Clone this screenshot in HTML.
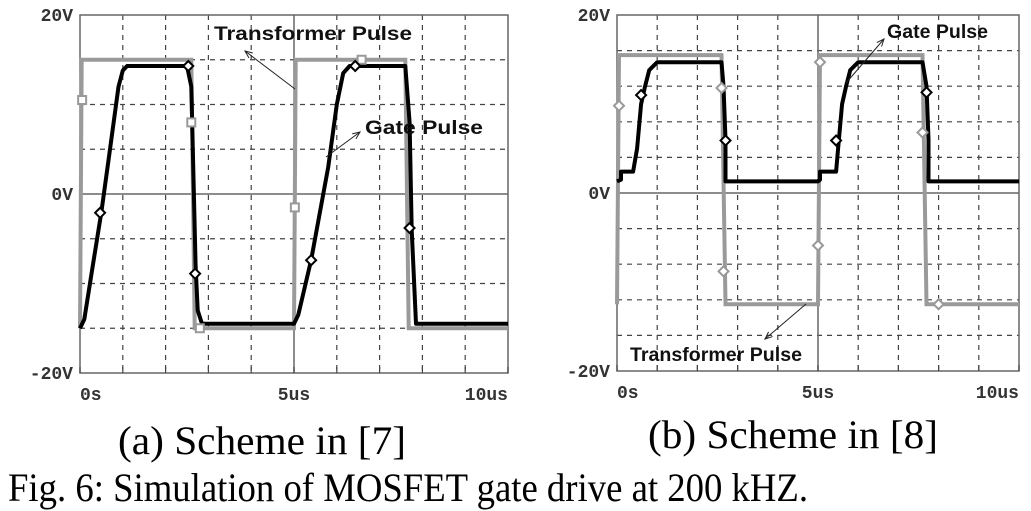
<!DOCTYPE html>
<html><head><meta charset="utf-8"><style>
html,body{margin:0;padding:0;background:#fff;}
svg{display:block;}
.tk{font-family:"Liberation Mono",monospace;font-weight:bold;font-size:18px;fill:#333;}
.lbl{font-family:"Liberation Sans",sans-serif;font-weight:bold;font-size:19px;fill:#111;}
.cap{font-family:"Liberation Serif",serif;fill:#000;}
</style></head><body>
<svg id="fig" width="1031" height="511" viewBox="0 0 1031 511">
<g id="pa"></g>
<g id="pb"></g>
<text class="cap" x="118" y="454" font-size="40" textLength="288" lengthAdjust="spacingAndGlyphs">(a) Scheme in [7]</text>
<text class="cap" x="648" y="448" font-size="40" textLength="290" lengthAdjust="spacingAndGlyphs">(b) Scheme in [8]</text>
<text class="cap" x="8" y="501" font-size="40" textLength="800" lengthAdjust="spacingAndGlyphs">Fig. 6: Simulation of MOSFET gate drive at 200 kHZ.</text>
</svg>
<script>
// ---- data ----
const xTickLabels = ["0s","5us","10us"];
const xTickValues = [0,5,10];
const yTickLabels = ["20V","0V","-20V"];
const yTickValues = [20,0,-20];
const aTransT = [0,0.04,2.6,2.68,5.0,5.04,7.6,7.68,10];
const aTransV = [-15,15,15,-15,-15,15,15,-15,-15];
const aGateT = [0,0.1,0.3,0.5,0.7,0.9,1.0,1.1,2.5,2.6,2.7,2.75,2.85,5.0,5.1,5.4,5.8,6.0,6.15,6.3,7.6,7.7,7.75,7.85,10];
const aGateV = [-15,-14,-8,-2,5,12,13.8,14.3,14.3,12,-8,-13,-14.5,-14.5,-13.5,-7.4,3,10,13.5,14.3,14.3,8,-4,-14.5,-14.5];
const aTransMkT = [0.05,2.6,2.8,5.02,6.58];
const aTransMkV = [10.5,8,-15,-1.5,15];
const aGateMkT = [0.47,2.53,2.69,5.4,6.43,7.7];
const aGateMkV = [-2.1,14.3,-8.9,-7.4,14.3,-3.8];
const bTransT = [0,0.05,2.6,2.7,5.0,5.05,7.6,7.7,10];
const bTransV = [-12.5,15.5,15.5,-12.5,-12.5,15.5,15.5,-12.5,-12.5];
const bGateT = [0,0.1,0.1,0.4,0.5,0.6,0.7,0.8,1.0,2.6,2.65,2.7,2.7,5.0,5.05,5.05,5.45,5.5,5.6,5.7,5.8,6.0,7.6,7.7,7.75,7.75,10];
const bGateV = [1.3,1.5,2.4,2.4,5,10,12,13.8,14.7,14.7,12,6,1.3,1.3,1.5,2.4,2.4,5,10,12,13.8,14.7,14.7,12,6,1.3,1.3];
const bTransMkT = [0.05,2.6,2.65,5.0,5.05,7.6,8.0];
const bTransMkV = [9.8,11.8,-8.8,-5.9,14.7,6.8,-12.5];
const bGateMkT = [0.6,2.7,5.45,7.7];
const bGateMkV = [11,5.9,5.9,11.3];

const NS="http://www.w3.org/2000/svg";
function mk(tag,attrs,parent){const e=document.createElementNS(NS,tag);for(const k in attrs)e.setAttribute(k,attrs[k]);parent.appendChild(e);return e;}

function drawPlot(g,cfg){
  const X=t=>cfg.x0+t*(cfg.x1-cfg.x0)/10;
  const Y=v=>cfg.yz-v*(cfg.yb-cfg.yt)/40;
  for(let i=1;i<10;i++){ if(i===5)continue;
    const l=mk('line',{x1:X(i),x2:X(i),y1:Y(20),y2:Y(-20),stroke:'#444','stroke-width':1.2,'stroke-dasharray':'5,5'},g);
    
    
  }
  for(let v=-20+cfg.ystep;v<20;v+=cfg.ystep){ if(Math.abs(v)<1e-6)continue;
    const l=mk('line',{x1:X(0),x2:X(10),y1:Y(v),y2:Y(v),stroke:'#444','stroke-width':1.2,'stroke-dasharray':'5,5'},g);
    
    
  }
  const z=mk('line',{x1:X(0),x2:X(10),y1:Y(0),y2:Y(0),stroke:'#666','stroke-width':1.5},g);
  
  
  const m=mk('line',{x1:X(5),x2:X(5),y1:Y(20),y2:Y(-20),stroke:'#666','stroke-width':1.5},g);
  
  
  const fr=mk('rect',{x:X(0),y:Y(20),width:X(10)-X(0),height:Y(-20)-Y(20),fill:'none',stroke:'#666','stroke-width':1.5},g);
  
  
  for(let i=0;i<=10;i++){
    const t=mk('line',{x1:X(i),x2:X(i),y1:Y(-20),y2:Y(-20)-6,stroke:'#444','stroke-width':1.2},g);
    
    
  }
  xTickValues.forEach((v,i)=>{
    const t=mk('text',{x:X(v),y:Y(-20)+27,'text-anchor':i===0?'start':(i===2?'end':'middle'),class:'tk'},g);
    t.textContent=xTickLabels[i];
    
    
  });
  yTickValues.forEach((v,i)=>{
    const t=mk('text',{x:X(0)-7,y:Y(v)+6,'text-anchor':'end',class:'tk'},g);
    t.textContent=yTickLabels[i];
    
    
  });
  const pts=(T,V)=>T.map((t,i)=>X(t).toFixed(1)+','+Y(V[i]).toFixed(1)).join(' ');
  const tr=mk('polyline',{points:pts(cfg.tT,cfg.tV),fill:'none',stroke:'#9a9a9a','stroke-width':4,'stroke-linejoin':'miter'},g);
  
  
  const ga=mk('polyline',{points:pts(cfg.gT,cfg.gV),fill:'none',stroke:'#000','stroke-width':4,'stroke-linejoin':'round'},g);
  
  
  cfg.tmT.forEach((t,i)=>{
    const x=X(t),y=Y(cfg.tmV[i]);
    const r=cfg.sq?mk('rect',{x:x-4,y:y-4,width:8,height:8,fill:'#fff',stroke:'#999','stroke-width':2},g)
                 :mk('polygon',{points:`${x},${y-5} ${x+5},${y} ${x},${y+5} ${x-5},${y}`,fill:'#fff',stroke:'#999','stroke-width':2},g);
    
    
  });
  cfg.gmT.forEach((t,i)=>{
    const x=X(t),y=Y(cfg.gmV[i]);
    const r=mk('polygon',{points:`${x},${y-5} ${x+5},${y} ${x},${y+5} ${x-5},${y}`,fill:'#fff',stroke:'#000','stroke-width':2},g);
    
    
  });
  cfg.labels.forEach(L=>{
    const a=mk('line',{x1:L.ax1,y1:L.ay1,x2:L.ax2,y2:L.ay2,stroke:'#222','stroke-width':1},g);
    
    
    const ang=Math.atan2(L.ay2-L.ay1,L.ax2-L.ax1);
    const h=mk('polyline',{points:`${L.ax2-8*Math.cos(ang-0.4)},${L.ay2-8*Math.sin(ang-0.4)} ${L.ax2},${L.ay2} ${L.ax2-8*Math.cos(ang+0.4)},${L.ay2-8*Math.sin(ang+0.4)}`,fill:'none',stroke:'#222','stroke-width':1},g);
    
    
    const t=mk('text',{x:L.x,y:L.y,class:'lbl',textLength:L.w,lengthAdjust:'spacingAndGlyphs'},g);
    t.textContent=L.text;
    
    
  });
}
drawPlot(document.getElementById('pa'),{x0:80,x1:508,yt:15,yb:373,yz:194,ystep:5,
  tT:aTransT,tV:aTransV,gT:aGateT,gV:aGateV,tmT:aTransMkT,tmV:aTransMkV,gmT:aGateMkT,gmV:aGateMkV,sq:true,
  labels:[{text:'Transformer Pulse',x:214,y:40,w:198,ax1:295,ay1:89,ax2:245,ay2:51},
          {text:'Gate Pulse',x:365,y:134,w:118,ax1:326,ay1:157,ax2:360,ay2:132}]});
drawPlot(document.getElementById('pb'),{x0:617,x1:1019,yt:15,yb:371,yz:193,ystep:4,
  tT:bTransT,tV:bTransV,gT:bGateT,gV:bGateV,tmT:bTransMkT,tmV:bTransMkV,gmT:bGateMkT,gmV:bGateMkV,sq:false,
  labels:[{text:'Gate Pulse',x:887,y:38,w:101,ax1:846,ay1:83,ax2:884,ay2:39},
          {text:'Transformer Pulse',x:630,y:361,w:172,ax1:806,ay1:304,ax2:765,ay2:339}]});
</script>
</body></html>
